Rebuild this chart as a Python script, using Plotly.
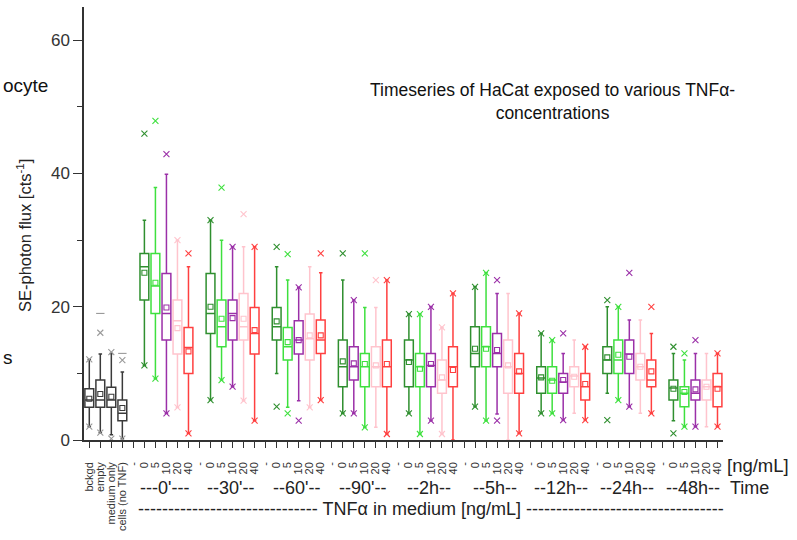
import plotly.graph_objects as go

# ---------------- data ----------------
control_labels = ["bckgd", "empty", "medium only", "cells (no TNF)"]
conc_labels = ["0", "5", "10", "20", "40"]
time_labels = ["---0'---", "--30'--", "--60'--", "--90'--", "--2h--", "--5h--", "--12h--", "--24h--", "--48h--"]

# controls
ctrl_q3 = [7.7, 9.0, 7.9, 6.0]
ctrl_med = [6.0, 6.0, 6.0, 4.0]
ctrl_q1 = [4.9, 4.9, 4.9, 2.9]
ctrl_hi = [12.1, 12.9, 13.0, 10.2]
ctrl_lo = [2.0, 1.1, 0.8, 0.2]
ctrl_mean = [6.2, 6.9, 6.5, 4.8]
ctrl_xtop = [12.1, 16.1, 13.2, 12.0]
ctrl_xbot = [2.0, 1.1, 0.2, 0.2]
ctrl_max = [None, 19.0, None, 13.0]

# TNF groups: rows = time points, columns = 0, 5, 10, 20, 40 ng/mL
tnf_q3 = [
    [28.0, 28.0, 25.0, 21.0, 16.9],
    [25.0, 21.0, 21.0, 22.0, 19.9],
    [19.9, 16.9, 17.9, 18.9, 18.0],
    [15.0, 14.0, 13.0, 14.0, 15.0],
    [15.0, 13.0, 13.0, 12.0, 14.0],
    [17.0, 17.0, 16.0, 15.0, 13.0],
    [11.0, 11.0, 10.0, 11.0, 10.0],
    [14.0, 15.0, 15.0, 13.0, 12.0],
    [9.0, 8.0, 9.0, 9.0, 10.0],
]
tnf_med = [
    [26.0, 23.1, 19.0, 17.9, 13.9],
    [19.0, 17.0, 19.0, 17.0, 16.0],
    [17.0, 14.0, 15.0, 15.2, 15.0],
    [11.0, 11.0, 11.0, 11.0, 11.0],
    [12.0, 11.0, 11.2, 9.0, 11.0],
    [13.0, 14.0, 13.0, 11.0, 10.0],
    [9.3, 9.0, 8.7, 9.6, 8.0],
    [12.0, 12.0, 12.9, 11.0, 9.0],
    [7.8, 7.0, 7.0, 8.0, 8.0],
]
tnf_q1 = [
    [21.0, 19.0, 15.0, 12.9, 10.0],
    [16.0, 14.0, 15.0, 15.0, 12.9],
    [15.0, 12.0, 12.9, 12.0, 13.0],
    [8.0, 9.0, 8.0, 8.0, 8.0],
    [8.0, 8.0, 8.0, 7.0, 8.0],
    [11.0, 11.0, 11.0, 7.0, 7.0],
    [7.0, 7.0, 7.0, 8.0, 6.0],
    [10.0, 10.0, 10.0, 9.0, 8.0],
    [6.0, 5.0, 6.0, 6.0, 5.0],
]
tnf_hi = [
    [33.0, 37.9, 39.9, 30.0, 26.0],
    [33.0, 30.0, 29.0, 29.0, 29.0],
    [26.0, 24.0, 22.9, 26.0, 25.1],
    [24.0, 21.0, 19.9, 19.9, 24.0],
    [18.9, 18.9, 20.0, 16.9, 22.0],
    [23.0, 25.1, 22.0, 22.0, 19.0],
    [16.0, 15.0, 13.0, 15.0, 14.0],
    [20.0, 20.0, 18.0, 18.0, 16.0],
    [13.0, 12.0, 13.0, 13.0, 13.0],
]
tnf_lo = [
    [11.2, 9.2, 4.0, 4.9, 1.0],
    [6.0, 9.0, 8.0, 5.9, 2.9],
    [10.0, 4.9, 5.9, 4.9, 6.0],
    [4.0, 4.0, 1.9, 1.9, 0.9],
    [4.0, 0.9, 2.9, 0.9, 0.0],
    [5.0, 2.9, 3.9, 0.0, 1.0],
    [4.0, 4.0, 3.0, 4.0, 3.0],
    [7.0, 6.0, 5.0, 4.0, 4.0],
    [2.9, 2.0, 2.0, 2.0, 2.0],
]
tnf_mean = [
    [25.1, 23.6, 19.9, 16.8, 13.3],
    [20.0, 18.2, 18.3, 18.2, 16.5],
    [17.8, 14.7, 15.0, 15.7, 15.7],
    [11.8, 11.5, 11.4, 11.2, 11.4],
    [11.7, 10.7, 11.4, 9.4, 10.5],
    [13.7, 13.7, 13.5, 11.2, 10.3],
    [9.4, 8.9, 9.0, 9.5, 8.4],
    [12.4, 12.8, 12.5, 11.0, 10.3],
    [7.7, 7.2, 7.6, 8.0, 7.7],
]
tnf_xtop = [
    [46.0, 47.9, 42.9, 30.0, 28.0],
    [33.0, 37.9, 29.0, 33.9, 29.0],
    [29.0, 27.9, 22.9, None, 28.0],
    [28.0, 21.0, 28.0, 24.0, 24.0],
    [18.9, 18.9, 20.0, 16.9, 22.0],
    [23.0, 25.1, 24.0, None, 19.0],
    [16.0, 15.0, 16.0, None, 14.0],
    [21.0, 20.0, 25.1, None, 20.0],
    [14.0, 13.0, 15.0, None, 13.0],
]
tnf_xbot = [
    [11.2, 9.2, 4.0, 4.9, 1.0],
    [6.0, 9.0, 8.0, 5.9, 2.9],
    [5.0, 4.0, 2.9, 4.9, 6.0],
    [4.0, 4.0, 1.9, None, 0.9],
    [4.0, 0.9, 2.9, 0.9, None],
    [5.0, 2.9, 2.9, None, 1.0],
    [4.0, 4.0, 3.0, None, 3.0],
    [3.0, 6.0, 5.0, None, 4.0],
    [1.0, 2.0, 2.0, None, 2.0],
]

# ---------------- style ----------------
FONT = "Arial, Liberation Sans, sans-serif"
palette = ["#2f8f2f", "#3ee03e", "#9b30a8", "#ffc4cd", "#ff4040"]
ctrl_color = "#3a3a3a"
ctrl_xcolor = "#9a9a9a"

fig = go.Figure()


def add_box(pos, q1, med, q3, lo, hi, color):
    fig.add_trace(go.Box(
        x=[pos], q1=[q1], median=[med], q3=[q3], lowerfence=[lo], upperfence=[hi],
        width=0.8, whiskerwidth=0.4, line=dict(color=color, width=1.5),
        fillcolor="rgba(255,255,255,0)", boxpoints=False, showlegend=False,
        hoverinfo="skip"))


def add_marks(xs, ys, color, symbol, size):
    pts = [(x, y) for x, y in zip(xs, ys) if y is not None]
    if not pts:
        return
    fig.add_trace(go.Scatter(
        x=[p[0] for p in pts], y=[p[1] for p in pts], mode="markers",
        marker=dict(symbol=symbol, size=size, color=color,
                    line=dict(color=color, width=1.1)),
        showlegend=False, hoverinfo="skip"))


# controls at positions 0..3
ctrl_pos = list(range(len(control_labels)))
for i, p in enumerate(ctrl_pos):
    add_box(p, ctrl_q1[i], ctrl_med[i], ctrl_q3[i], ctrl_lo[i], ctrl_hi[i], ctrl_color)
add_marks(ctrl_pos, ctrl_mean, ctrl_color, "square-open", 5)
add_marks(ctrl_pos, ctrl_xtop, ctrl_xcolor, "x-thin-open", 6)
add_marks(ctrl_pos, ctrl_xbot, ctrl_xcolor, "x-thin-open", 6)
add_marks(ctrl_pos, ctrl_max, ctrl_xcolor, "line-ew-open", 6)

tickvals = list(ctrl_pos)
ticktext = list(control_labels)
group_centers = []
start = len(control_labels)
for g in range(len(time_labels)):
    sep = start + g * 6
    tickvals.append(sep)
    ticktext.append("-")
    order = [0, 1, 2, 3, 4]
    if g == 3:  # 90' group: purple and bright green appear swapped
        order = [0, 2, 1, 3, 4]
    positions = [sep + 1 + k for k in range(5)]
    group_centers.append(positions[2])
    for k in range(5):
        tickvals.append(positions[k])
        ticktext.append(conc_labels[k])
        col = palette[order[k]]
        add_box(positions[k], tnf_q1[g][k], tnf_med[g][k], tnf_q3[g][k],
                tnf_lo[g][k], tnf_hi[g][k], col)
        add_marks([positions[k]], [tnf_mean[g][k]], col, "square-open", 5)
        add_marks([positions[k]] * 2, [tnf_xtop[g][k], tnf_xbot[g][k]], col, "x-thin-open", 6)

# ---------------- layout ----------------
L, R, T, B = 84, 74, 7, 100
W, H = 797, 540
pw, ph = W - L - R, H - T - B


def px_x(px):
    return (px - L) / pw


def px_y(py):
    return (H - B - py) / ph


fig.update_layout(
    width=W, height=H, margin=dict(l=L, r=R, t=T, b=B),
    paper_bgcolor="white", plot_bgcolor="white",
    boxmode="overlay", showlegend=False,
    font=dict(family=FONT, color="#222"),
    xaxis=dict(range=[-0.48, 57.5], tickmode="array", tickvals=tickvals, ticktext=ticktext,
               tickangle=-90, tickfont=dict(size=11, color="#333"),
               ticks="outside", ticklen=6, tickwidth=1.3, tickcolor="#333",
               ticklabelstandoff=10,
               showline=True, linecolor="#333", linewidth=1.5,
               showgrid=False, zeroline=False),
    yaxis=dict(range=[0, 65], tickvals=[0, 20, 40, 60], tickfont=dict(size=17, color="#333"),
               ticks="outside", ticklen=9, tickwidth=1.3, tickcolor="#333",
               minor=dict(dtick=10, ticks="outside", ticklen=5, tickwidth=1.3, tickcolor="#333"),
               showline=True, linecolor="#333", linewidth=1.5,
               showgrid=False, zeroline=False),
)

ann = []
ann.append(dict(text="Timeseries of HaCat exposed to various TNFα-<br>concentrations",
                x=px_x(552), y=px_y(101), xref="paper", yref="paper",
                xanchor="center", yanchor="middle", showarrow=False,
                font=dict(size=17.5, color="#111")))
ann.append(dict(text="SE-photon flux [cts<sup>-1</sup>]", textangle=-90,
                x=px_x(24), y=px_y(236), xref="paper", yref="paper",
                xanchor="center", yanchor="middle", showarrow=False,
                font=dict(size=16.5, color="#222")))
ann.append(dict(text="ocyte", x=px_x(50), y=px_y(85), xref="paper", yref="paper",
                xanchor="right", yanchor="middle", showarrow=False,
                font=dict(size=19, color="#111")))
ann.append(dict(text="s", x=px_x(1), y=px_y(357), xref="paper", yref="paper",
                xanchor="left", yanchor="middle", showarrow=False,
                font=dict(size=19, color="#111")))
for g, lab in enumerate(time_labels):
    ann.append(dict(text=lab, x=group_centers[g] - 0.2, y=px_y(488), xref="x", yref="paper",
                    xanchor="center", yanchor="middle", showarrow=False,
                    font=dict(size=18, color="#222")))
ann.append(dict(text="Time", x=px_x(728), y=px_y(488), xref="paper", yref="paper",
                xanchor="left", yanchor="middle", showarrow=False,
                font=dict(size=18, color="#222")))
ann.append(dict(text="[ng/mL]", x=px_x(725), y=px_y(465), xref="paper", yref="paper",
                xanchor="left", yanchor="middle", showarrow=False,
                font=dict(size=18.5, color="#222")))
ann.append(dict(text="-" * 30 + " TNFα in medium [ng/mL] " + "-" * 33,
                x=px_x(136), y=px_y(509), xref="paper", yref="paper",
                xanchor="left", yanchor="middle", showarrow=False,
                font=dict(size=18, color="#222")))
fig.update_layout(annotations=ann)

fig.write_html("out.html")
